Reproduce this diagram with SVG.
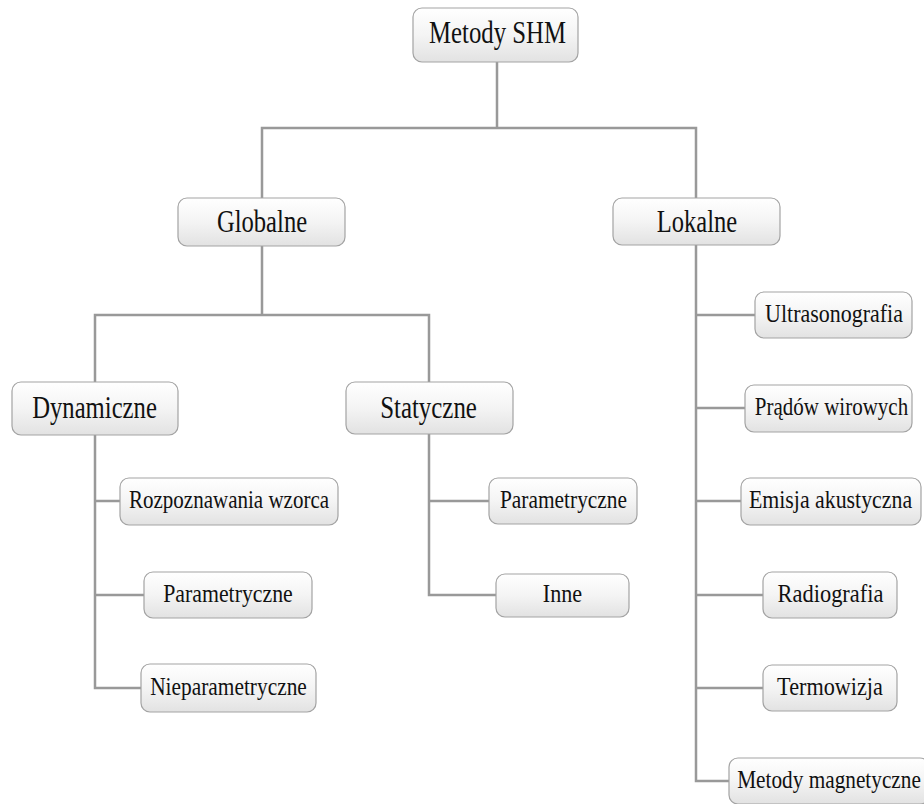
<svg xmlns="http://www.w3.org/2000/svg" width="924" height="804" viewBox="0 0 924 804">
<defs>
<linearGradient id="g" x1="0" y1="0" x2="0" y2="1">
<stop offset="0" stop-color="#ffffff"/>
<stop offset="0.5" stop-color="#f4f4f4"/>
<stop offset="1" stop-color="#e2e2e2"/>
</linearGradient>
</defs>
<style>
rect{fill:url(#g);stroke:#a3a3a3;stroke-width:1.2}
text{fill:#111;text-anchor:middle}
.b{font-size:31px}
.s{font-size:25px}
.c{fill:none;stroke:#999;stroke-width:2.5}
</style>
<rect x="0" y="0" width="924" height="804" style="fill:#fff;stroke:none"/>
<g id="connectors" class="c">
<path class="c" d="M497 62V128M262 198V128H696V198"/>
<path class="c" d="M262 246V315M95 382V315H429V382"/>
<path class="c" d="M95 435V688H141M95 501H120M95 595H144"/>
<path class="c" d="M429 434V595H496M429 501H489"/>
<path class="c" d="M696 245V781H729M696 315H755M696 408H745M696 501H741M696 595H763M696 688H763"/>
</g>
<g font-family="Liberation Serif, serif">
<g id="n-shm"><rect x="413" y="8" width="165" height="54" rx="9"/><text class="b" transform="translate(497.5,43) scale(0.82,1)" textLength="167" lengthAdjust="spacingAndGlyphs">Metody SHM</text></g>
<g id="n-glob"><rect x="178" y="198" width="167" height="48" rx="9"/><text class="b" transform="translate(262,232) scale(0.82,1)" textLength="110" lengthAdjust="spacingAndGlyphs">Globalne</text></g>
<g id="n-lok"><rect x="613" y="198" width="167" height="47" rx="9"/><text class="b" transform="translate(697,232) scale(0.82,1)" textLength="98" lengthAdjust="spacingAndGlyphs">Lokalne</text></g>
<g id="n-dyn"><rect x="12" y="382" width="166" height="53" rx="9"/><text class="b" transform="translate(94.5,418) scale(0.82,1)" textLength="152" lengthAdjust="spacingAndGlyphs">Dynamiczne</text></g>
<g id="n-stat"><rect x="346" y="382" width="167" height="52" rx="9"/><text class="b" transform="translate(428.5,418) scale(0.82,1)" textLength="118" lengthAdjust="spacingAndGlyphs">Statyczne</text></g>
<g id="n-rozp"><rect x="120" y="478" width="218" height="47" rx="9"/><text class="s" transform="translate(229,508) scale(0.82,1)" textLength="244" lengthAdjust="spacingAndGlyphs">Rozpoznawania wzorca</text></g>
<g id="n-param1"><rect x="144" y="572" width="168" height="46" rx="9"/><text class="s" transform="translate(228,601.5) scale(0.82,1)" textLength="158" lengthAdjust="spacingAndGlyphs">Parametryczne</text></g>
<g id="n-nieparam"><rect x="141" y="664" width="175" height="48" rx="9"/><text class="s" transform="translate(228.5,694.5) scale(0.82,1)" textLength="191" lengthAdjust="spacingAndGlyphs">Nieparametryczne</text></g>
<g id="n-param2"><rect x="489" y="478" width="148" height="46" rx="9"/><text class="s" transform="translate(563.5,507.5) scale(0.82,1)" textLength="155" lengthAdjust="spacingAndGlyphs">Parametryczne</text></g>
<g id="n-inne"><rect x="496" y="574" width="133" height="43" rx="9"/><text class="s" transform="translate(562.5,601.5) scale(0.82,1)" textLength="48" lengthAdjust="spacingAndGlyphs">Inne</text></g>
<g id="n-ultra"><rect x="755" y="292" width="157" height="46" rx="9"/><text class="s" transform="translate(834,321.5) scale(0.82,1)" textLength="168" lengthAdjust="spacingAndGlyphs">Ultrasonografia</text></g>
<g id="n-prad"><rect x="745" y="385" width="167" height="47" rx="9"/><text class="s" transform="translate(831.5,415) scale(0.82,1)" textLength="187" lengthAdjust="spacingAndGlyphs">Prądów wirowych</text></g>
<g id="n-emisja"><rect x="741" y="478" width="180" height="47" rx="9"/><text class="s" transform="translate(830.5,508) scale(0.82,1)" textLength="199" lengthAdjust="spacingAndGlyphs">Emisja akustyczna</text></g>
<g id="n-radio"><rect x="763" y="572" width="134" height="46" rx="9"/><text class="s" transform="translate(830.5,601.5) scale(0.82,1)" textLength="129" lengthAdjust="spacingAndGlyphs">Radiografia</text></g>
<g id="n-termo"><rect x="763" y="665" width="134" height="46" rx="9"/><text class="s" transform="translate(830,694.5) scale(0.82,1)" textLength="129" lengthAdjust="spacingAndGlyphs">Termowizja</text></g>
<g id="n-magnet"><rect x="729" y="758" width="200" height="46" rx="9"/><text class="s" transform="translate(829,787.5) scale(0.82,1)" textLength="224" lengthAdjust="spacingAndGlyphs">Metody magnetyczne</text></g>
</g>
</svg>
